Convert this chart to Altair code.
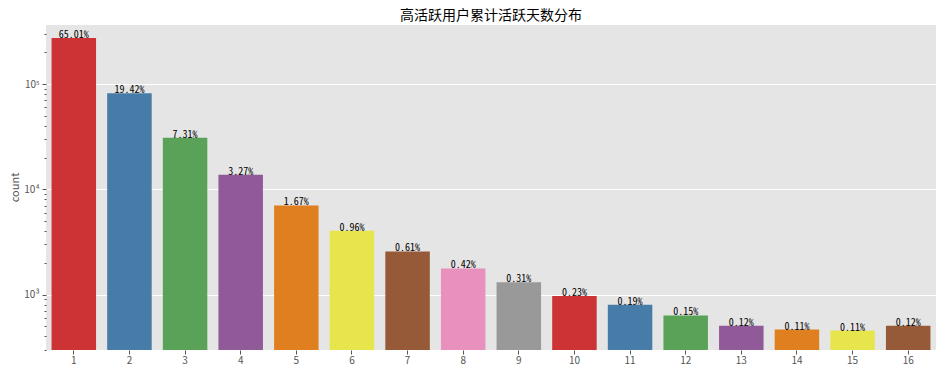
import colorsys
import altair as alt
import pandas as pd

# ---- data ----
days = [str(i) for i in range(1, 17)]
counts = [273700, 81800, 30800, 13770, 7030, 4040, 2570, 1770, 1305, 968,
          800, 632, 505, 465, 455, 505]
pct_labels = ["65.01%", "19.42%", "7.31%", "3.27%", "1.67%", "0.96%", "0.61%",
              "0.42%", "0.31%", "0.23%", "0.19%", "0.15%", "0.12%", "0.11%",
              "0.11%", "0.12%"]

# Set1 palette, desaturated like seaborn (0.75)
set1 = ["#e41a1c", "#377eb8", "#4daf4a", "#984ea3", "#ff7f00",
        "#ffff33", "#a65628", "#f781bf", "#999999"]


def desat(hexc, prop=0.75):
    r, g, b = (int(hexc[i:i + 2], 16) / 255 for i in (1, 3, 5))
    h, l, s = colorsys.rgb_to_hls(r, g, b)
    r, g, b = colorsys.hls_to_rgb(h, l, s * prop)
    r, g, b = (min(1.0, max(0.0, v)) for v in (r, g, b))
    return "#%02x%02x%02x" % (round(r * 255), round(g * 255), round(b * 255))


palette = [desat(c) for c in set1]
colors = [palette[i % len(palette)] for i in range(len(days))]

df = pd.DataFrame({"day": days, "count": counts, "pct": pct_labels})

y_min, y_max = 297, 364000
tick_vals = [300, 400, 500, 600, 700, 800, 900, 1000,
             2000, 3000, 4000, 5000, 6000, 7000, 8000, 9000, 10000,
             20000, 30000, 40000, 50000, 60000, 70000, 80000, 90000, 100000,
             200000, 300000]

is_major = "indexof([1000, 10000, 100000], datum.value) >= 0"

x_enc = alt.X("day:N", sort=days, title=None,
              scale=alt.Scale(paddingInner=0.2, paddingOuter=0.1),
              axis=alt.Axis(labelAngle=0, labelColor="#555555", labelFontSize=10,
                            labelFont="Noto Sans CJK SC", tickColor="#555555",
                            tickSize=4, domain=False, grid=False, labelPadding=1))

y_scale = alt.Scale(type="log", domain=[y_min, y_max], nice=False)

bars = alt.Chart(df).mark_rect().encode(
    x=x_enc,
    y=alt.Y("count:Q", scale=y_scale, title="count",
            axis=alt.Axis(values=tick_vals,
                          labelExpr="datum.value == 1000 ? '10³' : datum.value == 10000 ? '10⁴' : datum.value == 100000 ? '10⁵' : ''",
                          labelOverlap=False, labelFlush=False,
                          labelColor="#555555", labelFontSize=10,
                          labelFont="Noto Sans CJK SC", labelPadding=3,
                          tickColor="#555555",
                          tickSize={"condition": {"test": is_major, "value": 4}, "value": 2},
                          grid=True, gridColor="white", gridWidth=1,
                          gridOpacity={"condition": {"test": is_major, "value": 1}, "value": 0},
                          domain=False,
                          titleFont="Noto Sans CJK SC", titleFontSize=11,
                          titleFontWeight="normal", titleColor="#555555",
                          titleX=-26, titleY=162, titleAlign="center",
                          titleBaseline="bottom", titleAngle=270)),
    y2=alt.datum(y_min),
    color=alt.Color("day:N", sort=days, legend=None,
                    scale=alt.Scale(domain=days, range=colors)),
)

labels = alt.Chart(df).mark_text(
    baseline="alphabetic", align="center", fontSize=10, color="black",
    font="Noto Sans Mono CJK SC, Noto Sans CJK SC",
).encode(
    x=alt.X("day:N", sort=days),
    y=alt.Y("count:Q", scale=y_scale),
    text="pct:N",
)

chart = alt.layer(bars, labels).properties(
    width=890, height=325,
    title=alt.TitleParams("高活跃用户累计活跃天数分布", font="Noto Sans CJK SC",
                          fontSize=14, fontWeight="normal", color="black",
                          anchor="middle", offset=2),
    padding={"left": 38, "top": 17, "right": 0, "bottom": 15},
    autosize=alt.AutoSizeParams(type="none"),
).configure_view(fill="#E5E5E5", stroke=None)

chart.save("out.html", embed_options={"renderer": "svg", "actions": False})
